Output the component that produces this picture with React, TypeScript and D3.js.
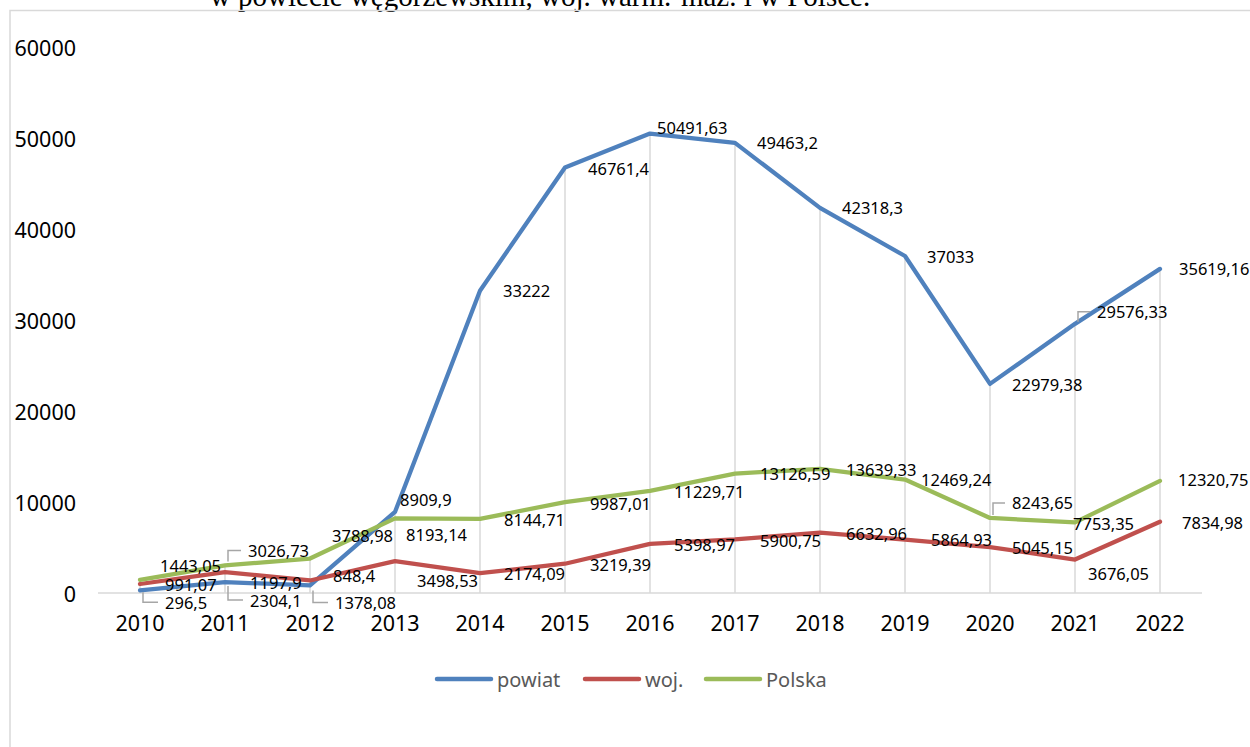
import React from 'react';
import * as d3 from 'd3';

const years = ['2010','2011','2012','2013','2014','2015','2016','2017','2018','2019','2020','2021','2022'];
const powiat = [296.5, 1197.9, 848.4, 8909.9, 33222, 46761.4, 50491.63, 49463.2, 42318.3, 37033, 22979.38, 29576.33, 35619.16];
const woj = [991.07, 2304.1, 1378.08, 3498.53, 2174.09, 3219.39, 5398.97, 5900.75, 6632.96, 5864.93, 5045.15, 3676.05, 7834.98];
const polska = [1443.05, 3026.73, 3788.98, 8193.14, 8144.71, 9987.01, 11229.71, 13126.59, 13639.33, 12469.24, 8243.65, 7753.35, 12320.75];
const yTicks = [0, 10000, 20000, 30000, 40000, 50000, 60000];
const seriesNames = ['powiat', 'woj.', 'Polska'];
const titleText = 'w powiecie węgorzewskim, woj. warm.-maz. i w Polsce.';

// label placement: [dx, dy, leaderGap (0 = none)]
const blueOff = [[25,12,2],[25,0,0],[23,-10,0],[5,-12,0],[23,0,0],[23,1,0],[7,-6,0],[22,0,0],[22,0,0],[22,1,0],[22,1,0],[22,-12,2],[19,0,0]];
const redOff = [[25,1,0],[25,28,14],[25,22,10],[22,19,0],[24,0,0],[25,1,0],[24,1,0],[25,1,0],[26,1,0],[26,0,0],[22,0,0],[13,14,0],[22,1,0]];
const greenOff = [[20,-14,0],[23,-15,4],[22,-23,0],[11,16,0],[24,1,0],[25,1,0],[24,1,0],[25,0,0],[26,1,0],[16,0,0],[22,-15,3],[-2,1,0],[18,-1,0]];

const colors = ['#4f81bd', '#c0504d', '#9bbb59'];
const FONT = "'Noto Sans', 'Open Sans', sans-serif";

export default function App() {
  const x = d3.scalePoint<string>().domain(years).range([140, 1160]);
  const y = d3.scaleLinear().domain([0, 60000]).range([593, 47]);
  const series = [powiat, woj, polska];
  const offs = [blueOff, redOff, greenOff];
  const line = d3.line<number>().x((_, i) => x(years[i]) as number).y(d => y(d));
  const fmt = (v: number) => String(v).replace('.', ',');

  return (
    <svg width={1250} height={747} style={{ position: 'absolute', left: 0, top: 0, background: '#fff' }}>
      <rect x={0} y={0} width={1250} height={747} fill="#fff" />
      <text x={540} y={6} textAnchor="middle" fontFamily="'Liberation Serif', 'Times New Roman', serif" fontSize={29} fill="#000">{titleText}</text>
      <path d="M10,747 V10.5 H1250" fill="none" stroke="#d9d9d9" strokeWidth={1.5} />
      {/* drop lines */}
      {years.map((yr, i) => {
        const mx = Math.max(powiat[i], woj[i], polska[i]);
        return <line key={'d' + yr} x1={x(yr)} x2={x(yr)} y1={y(mx)} y2={y(0)} stroke="#d9d9d9" strokeWidth={1.5} />;
      })}
      <line x1={98} x2={1202} y1={y(0)} y2={y(0)} stroke="#d9d9d9" strokeWidth={1.5} />
      {yTicks.map(t => (
        <text key={'yt' + t} x={76} y={y(t)} textAnchor="end" dominantBaseline="central" fontFamily={FONT} fontSize={21.5} fill="#000">{t}</text>
      ))}
      {years.map(yr => (
        <text key={'xt' + yr} x={x(yr)} y={622} textAnchor="middle" dominantBaseline="central" fontFamily={FONT} fontSize={21.5} fill="#000">{yr}</text>
      ))}
      {series.map((s, si) => (
        <path key={'s' + si} d={line(s) as string} fill="none" stroke={colors[si]} strokeWidth={4.25} strokeLinejoin="round" strokeLinecap="round" />
      ))}
      {series.map((s, si) => s.map((v, i) => {
        const px = x(years[i]) as number;
        const py = y(v);
        const [dx, dy, gap] = offs[si][i];
        const lx = px + dx;
        const ly = py + dy;
        const sign = dy >= 0 ? 1 : -1;
        return (
          <g key={'l' + si + '-' + i}>
            {gap > 0 && (
              <path d={`M${px + 3},${py + sign * gap} V${ly} H${lx - 7}`} fill="none" stroke="#a6a6a6" strokeWidth={1.5} />
            )}
            <text x={lx} y={ly} dominantBaseline="central" fontFamily={FONT} fontSize={16.5} fill="#000">{fmt(v)}</text>
          </g>
        );
      }))}
      {/* legend */}
      {seriesNames.map((n, i) => {
        const lx0 = [437, 585, 706][i];
        return (
          <g key={'lg' + n}>
            <line x1={lx0} x2={lx0 + 54} y1={679} y2={679} stroke={colors[i]} strokeWidth={4.5} strokeLinecap="round" />
            <text x={lx0 + 60} y={679} dominantBaseline="central" fontFamily={FONT} fontSize={20} fill="#595959">{n}</text>
          </g>
        );
      })}
    </svg>
  );
}
